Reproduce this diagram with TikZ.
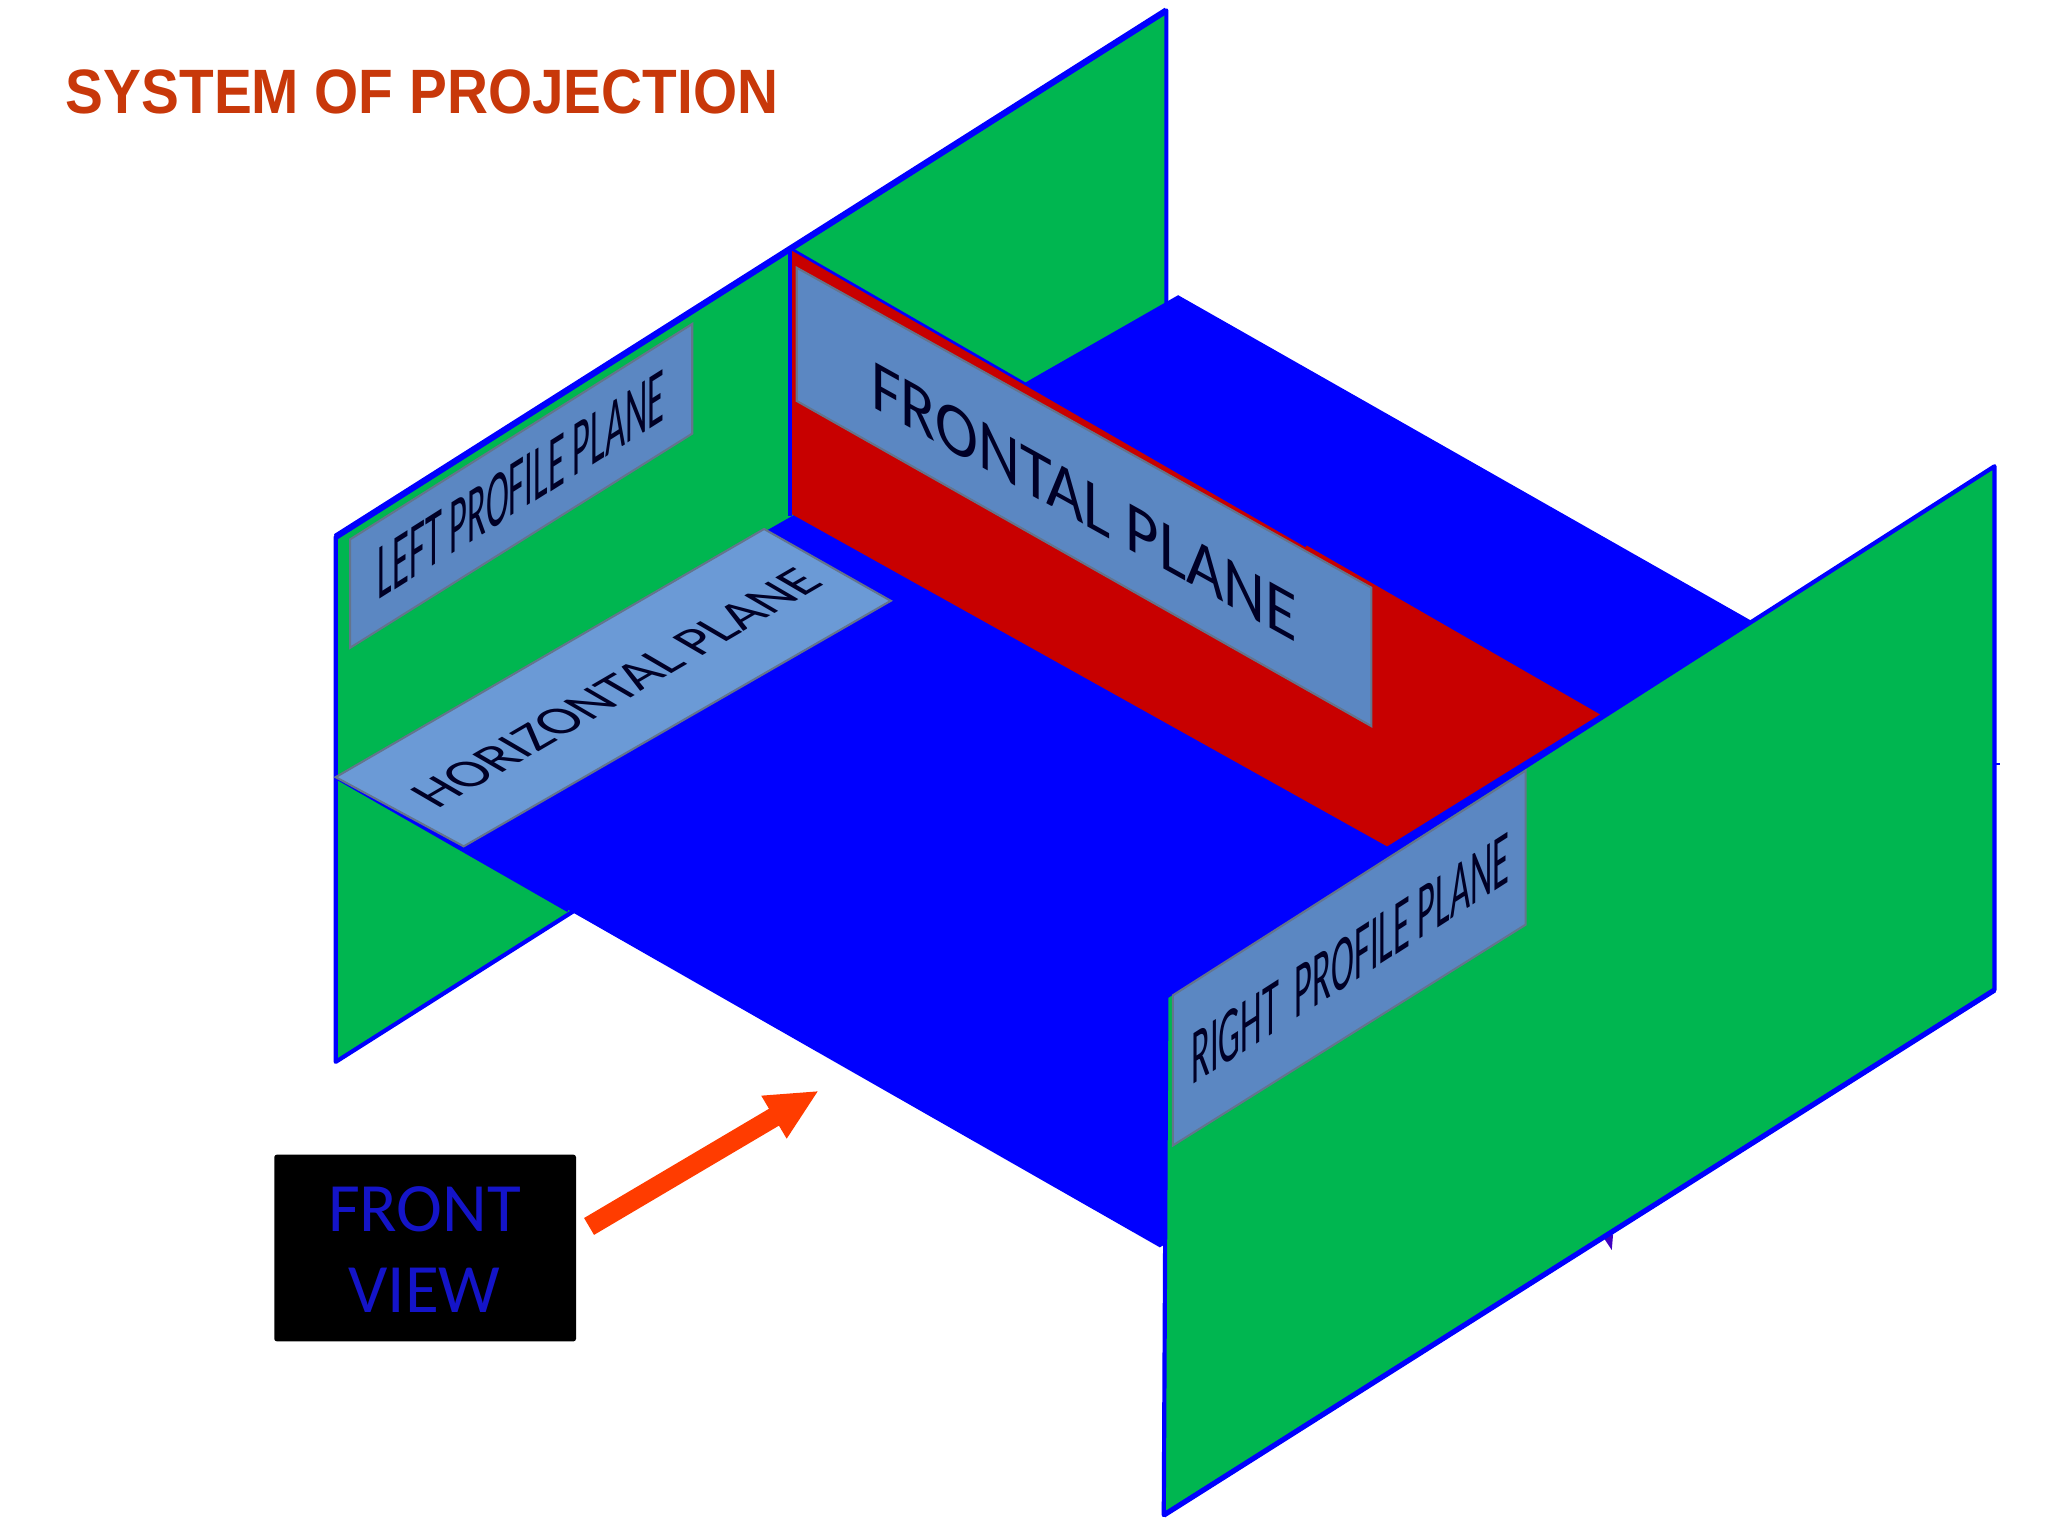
\documentclass[tikz,border=0pt]{standalone}
\usepackage{fontspec}
\setmainfont{Carlito}
\newfontfamily\titlefont[FakeStretch=.905]{Liberation Sans}
\usetikzlibrary{arrows.meta}
\definecolor{wallgreen}{HTML}{00B650}
\definecolor{floorblue}{HTML}{0000FF}
\definecolor{framered}{HTML}{C80000}
\definecolor{tagblue}{HTML}{5B87C2}
\definecolor{tagblueb}{HTML}{6B9AD6}
\definecolor{tagedge}{HTML}{64748C}
\definecolor{titlered}{HTML}{C8380A}
\definecolor{arrowred}{HTML}{FF3C00}
\definecolor{viewblue}{HTML}{1414C8}
\definecolor{tick}{HTML}{4000C0}
\newcommand\ptext[8]{\begin{scope}[shift={(#2,#3)},cm={#4,#5,#6,#7,(0,0)}]\node[transform shape,tagtext] (#1) {#8};\end{scope}}
\tikzset{
  wall/.style={fill=wallgreen,draw=floorblue,line width=1.6pt,line join=round},
  topedge/.style={draw=floorblue,line width=2.4pt},
  tag/.style={fill=tagblue,draw=tagedge,line width=.8pt},
  tagtext/.style={inner sep=0pt,text=black!85!blue,font=\fontsize{25}{25}\selectfont},
  viewtext/.style={inner sep=0pt,text=viewblue,font=\fontsize{26.5}{27}\selectfont},
}
\begin{document}
\begin{tikzpicture}[x=0.5pt,y=-0.5pt]
\useasboundingbox[fill=white] (0,0) rectangle (1568,1176);
\node[anchor=west,inner sep=0pt,text=titlered,font=\titlefont\bfseries\fontsize{24}{25}\selectfont] (title) at (50,70) {SYSTEM OF PROJECTION};
% back wall
\draw[wall] (257,411) -- (893,8) -- (893,410) -- (257,813) -- cycle;
\draw[topedge] (257,411) -- (893,8);
% ticks
\fill[tick] (1226,945) -- (1235,945) -- (1234,957) -- cycle;
\fill[floorblue] (1525,584) rectangle (1531,586);
% floor
\fill[floorblue] (257,595) -- (902,226) -- (1527,581) -- (888,955) -- cycle;
\draw[floorblue,line width=1.4pt] (257,595) -- (435,697);
% frontal plane
\fill[framered] (605,190) -- (1225,547) -- (1062,648) -- (605,393) -- cycle;
\draw[floorblue,line width=1.6pt] (605,190) -- (605,395);
\draw[floorblue,line width=1pt] (605,190) -- (1000,418);
% horizontal tag
\draw[fill=tagblueb,draw=tagedge,line width=.8pt] (257,595) -- (585,405) -- (682,460) -- (355,648) -- cycle;
\ptext{horiz}{472}{527}{.73}{.425}{-.72}{.42}{HORIZONTAL PLANE}
% left tag
\draw[tag] (268,413) -- (530,248) -- (530,332) -- (268,496) -- cycle;
\ptext{left}{399}{371}{.53}{.335}{0}{1.22}{LEFT PROFILE PLANE}
% frontal tag
\draw[tag] (610,205) -- (1050,450) -- (1050,556) -- (610,307) -- cycle;
\ptext{front}{830}{384}{.99}{-.55}{0}{1.1}{FRONTAL PLANE}
% right wall
\draw[wall] (893,763) -- (1527,357) -- (1527,758) -- (891,1160) -- cycle;
\draw[topedge,line width=2pt] (1527,758) -- (891,1160);
\draw[tag] (898,762) -- (1168,590) -- (1168,708) -- (898,877) -- cycle;
\ptext{right}{1034}{734}{.53}{.34}{0}{1.2}{RIGHT\ \ PROFILE PLANE}
% view box
\node[fill=black,rounded corners=1pt,minimum width=115.5pt,minimum height=71.5pt,inner sep=0pt] (box) at (325.5,955.5) {};
\node[viewtext] (fronttxt) at (325,926) {FRONT};
\node[viewtext] (viewtxt) at (325,988) {VIEW};
\coordinate (tail) at (451,939);
\coordinate (tip) at (627,835);
\draw[arrowred,line width=7.5pt,-{Triangle[width=17.5pt,length=20pt]}] (tail) -- (tip);
\end{tikzpicture}
\end{document}
